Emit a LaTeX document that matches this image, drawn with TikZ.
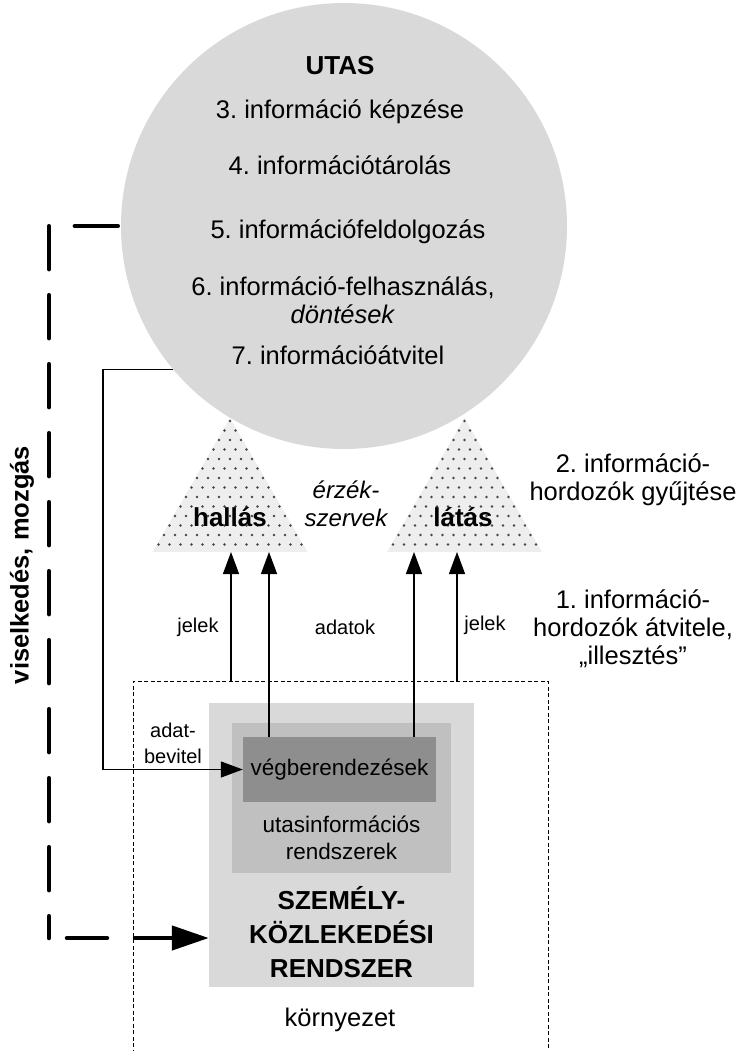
\documentclass[tikz,border=0pt]{standalone}
\usepackage{fontspec}
\setmainfont{Liberation Sans}
\usetikzlibrary{arrows.meta}
\frenchspacing

\definecolor{utasszin}{HTML}{D9D9D9}
\definecolor{rendszerszin}{HTML}{D9D9D9}
\definecolor{infoszin}{HTML}{C0C0C0}
\definecolor{vegbszin}{HTML}{8E8E8E}
\definecolor{erzekszin}{HTML}{EEEEEE}
\definecolor{pontszin}{HTML}{454545}

\begin{document}
\begin{tikzpicture}[x=1pt, y=-1pt,
    szoveg/.style={font=\fontsize{25.5}{28}\selectfont, align=center, inner sep=0pt},
    kisszoveg/.style={font=\fontsize{20}{26}\selectfont, align=center, inner sep=0pt},
    doboz/.style={rectangle, inner sep=0pt, draw=none},
    jel/.style={line width=1.3pt, -{Triangle[length=22pt, width=16pt]}},
    viselk/.style={line width=4.5pt, line cap=round}
  ]
  \useasboundingbox (0,0) rectangle (745,1051);

  % Kornyezet (open at the bottom)
  \node[doboz, draw=black, line width=0.7pt, dash pattern=on 4pt off 2.5pt,
    minimum width=415pt, minimum height=420pt] (korny) at (340.5,891) {};

  % Szemelykozlekedesi rendszer
  \node[doboz, fill=rendszerszin, minimum width=265pt, minimum height=284pt]
    (rendszer) at (341.5,845) {};
  \node[doboz, fill=infoszin, minimum width=219pt, minimum height=150pt]
    (info) at (341.5,798) {};
  \node[doboz, fill=vegbszin, minimum width=193pt, minimum height=65pt,
    font=\fontsize{22.5}{27}\selectfont] (vegb) at (339.5,769.5) {végberendezések};
  \node[font=\fontsize{22.5}{27}\selectfont, align=center, inner sep=0pt]
    (infotxt) at (341.5,838) {utasinformációs\\rendszerek};
  \node[szoveg, font=\fontsize{26}{34}\selectfont\bfseries]
    (rendszertxt) at (341.5,932) {SZEMÉLY-\\KÖZLEKEDÉSI\\RENDSZER};
  \node[szoveg] (kornytxt) at (340,1020) {környezet};

  % Erzekszervek
  \foreach \cx/\nev in {230/hallas, 464.5/latas} {
    \fill[erzekszin] (\cx,418) -- (\cx+77.5,552) -- (\cx-77.5,552) -- cycle;
    \begin{scope}
      \clip (\cx,418) -- (\cx+77.5,552) -- (\cx-77.5,552) -- cycle;
      \foreach \i in {0,...,14} {
        \foreach \j in {-7,...,7} {
          \fill[pontszin] ({\cx+\j*11+mod(\i,2)*5.5}, {421+\i*9.5}) circle[radius=1.35pt];
        }
      }
    \end{scope}
    \coordinate (\nev alap) at (\cx,552);
  }
  \node[szoveg, font=\fontsize{26}{28}\selectfont\bfseries] (hallas) at (230,517) {hallás};
  \node[szoveg, font=\fontsize{26}{28}\selectfont\bfseries] (latas) at (463,517) {látás};
  \node[szoveg, font=\fontsize{24}{28}\selectfont\itshape] (erzek) at (346,504) {érzék-\\szervek};

  % Utas
  \node[circle, fill=utasszin, minimum size=446pt, inner sep=0pt] (utas) at (344,226) {};
  \node[szoveg, font=\fontsize{26}{28}\selectfont\bfseries, anchor=base] (utasnev) at (340,75) {UTAS};
  \node[szoveg, anchor=base] (kepzes) at (340,119) {3. információ képzése};
  \node[szoveg, anchor=base] (tarolas) at (340,175) {4. információtárolás};
  \node[szoveg, anchor=base] (feldolg) at (348,238) {5. információfeldolgozás};
  \node[szoveg] (felhaszn) at (343,300) {6. információ-felhasználás,\\\textit{döntések}};
  \node[szoveg, anchor=base] (atvitel) at (338,364) {7. információátvitel};

  % Lepesek jobbra
  \node[szoveg] (gyujtes) at (633,480) {2. információ-\\hordozók gyűjtése};
  \node[szoveg] (illesztes) at (633,629) {1. információ-\\hordozók átvitele,\\„illesztés”};

  % Jelek es adatok
  \coordinate (x1) at (231,0);
  \coordinate (x2) at (269,0);
  \coordinate (x3) at (414,0);
  \coordinate (x4) at (457,0);
  \draw[jel] (korny.north -| x1) -- (hallasalap -| x1);
  \draw[jel] (vegb.north -| x2) -- (hallasalap -| x2);
  \draw[jel] (vegb.north -| x3) -- (latasalap -| x3);
  \draw[jel] (korny.north -| x4) -- (latasalap -| x4);
  \node[kisszoveg] (jelek1) at (198,627) {jelek};
  \node[kisszoveg] (adatok) at (345,627) {adatok};
  \node[kisszoveg] (jelek2) at (485,625) {jelek};

  % Adatbevitel
  \coordinate (fordulo) at (103,769.5);
  \draw[jel] (utas.220.6) -| (fordulo) -- (vegb.west);
  \node[kisszoveg] (adatbev) at (173,743) {adat-\\bevitel};

  % Viselkedes, mozgas
  \coordinate (sarok) at (49,938);
  \draw[viselk, dash pattern=on 43pt off 26pt, dash phase=66pt]
    (utas.west) -| (sarok);
  \draw[viselk, dash pattern=on 40pt off 28pt, dash phase=50pt,
    -{Triangle[length=37pt, width=24pt]}] (sarok) -- (rendszer.west |- sarok);
  \node[szoveg, font=\fontsize{25.5}{28}\selectfont\bfseries, rotate=90]
    (viselkedes) at (22,565) {viselkedés, mozgás};
\end{tikzpicture}
\end{document}
